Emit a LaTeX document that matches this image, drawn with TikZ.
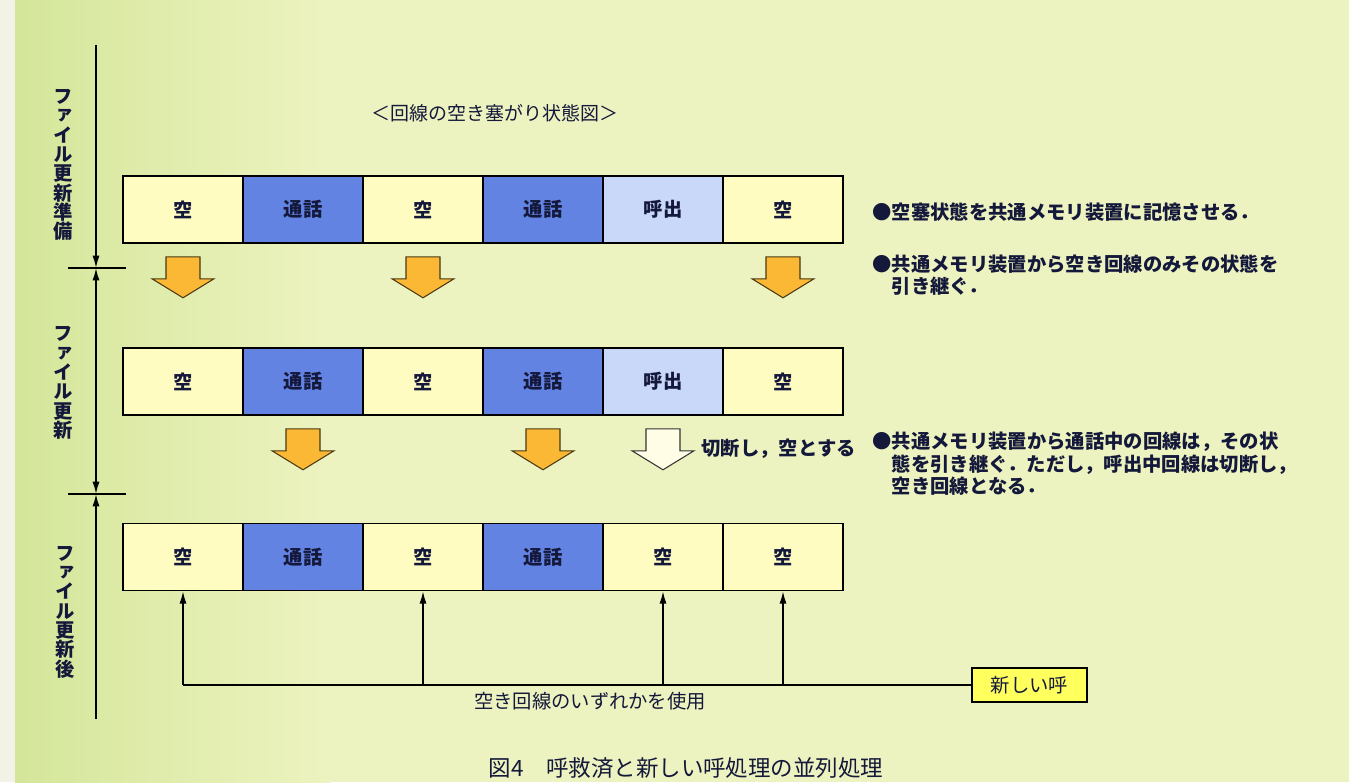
\documentclass[tikz,border=0pt]{standalone}
\usepackage{fontspec}
\usepackage{xcolor}
\usepackage{tikz}
\usetikzlibrary{arrows.meta}
\setmainfont{Noto Sans CJK JP}
\newfontfamily\tateFont[RawFeature=+vert]{Noto Sans CJK JP}
\definecolor{bgMain}{HTML}{EDF3C0}
\definecolor{bgLeft}{HTML}{D4E69A}
\definecolor{bgStrip}{HTML}{F3F2E6}
\definecolor{akiYellow}{HTML}{FFFCC2}
\definecolor{tsuwaBlue}{HTML}{6383E3}
\definecolor{yobiBlue}{HTML}{C9D7F8}
\definecolor{arrowOrange}{HTML}{FBB834}
\definecolor{arrowEdge}{HTML}{4A3812}
\definecolor{arrowWhite}{HTML}{FFFDE6}
\definecolor{newCallYellow}{HTML}{FFFF5E}
\definecolor{navyText}{HTML}{14183A}
\tikzset{
  cell/.style={draw, minimum width=2.4cm, minimum height=1.34cm, inner sep=0pt, text=navyText, font=\bfseries\fontsize{11}{12}\selectfont},
  akiCell/.style={cell, fill=akiYellow, node contents={空}},
  tsuwaCell/.style={cell, fill=tsuwaBlue, node contents={通話}},
  yobiCell/.style={cell, fill=yobiBlue, node contents={呼出}},
  note/.style={anchor=west, align=left, text=navyText, font=\bfseries\fontsize{11}{12.8}\selectfont},
  tate/.style={align=center, text=navyText, font=\tateFont\bfseries\fontsize{11}{11}\selectfont},
  plain/.style={text=navyText, font=\fontsize{11}{13}\selectfont},
  newCallBox/.style={draw, fill=newCallYellow, minimum width=2.3cm, minimum height=0.68cm, text=navyText, font=\fontsize{11}{13}\selectfont},
  axisTip/.tip={Latex[length=7pt,width=4pt]},
  bigdown/.pic={\filldraw[line width=0.6pt] (-17,0) -- (17,0) -- (17,22) -- (31,22) -- (0,41) -- (-31,22) -- (-17,22) -- cycle;}
}

\begin{document}
\begin{tikzpicture}[x=0.02cm, y=-0.02cm, line width=0.9pt]
\useasboundingbox (0,0) rectangle (1349,782);
% background
\fill[bgMain] (0,0) rectangle (1349,782);
\fill[left color=bgLeft, right color=bgMain] (15,0) rectangle (330,782);
\fill[bgStrip] (0,0) rectangle (15,782);
\node[plain, font=\fontsize{10.8}{12}\selectfont] (title) at (495,113) {＜回線の空き塞がり状態図＞};
% three rows of lines
\foreach \kind [count=\i] in {aki,tsuwa,aki,tsuwa,yobi,aki}
  \node (a\i) at ({63+120*\i},209.5) [\kind Cell];
\foreach \kind [count=\i] in {aki,tsuwa,aki,tsuwa,yobi,aki}
  \node (b\i) at ({63+120*\i},381.5) [\kind Cell];
\foreach \kind [count=\i] in {aki,tsuwa,aki,tsuwa,aki,aki}
  \node (c\i) at ({63+120*\i},557) [\kind Cell];
% block arrows
\foreach \i in {1,3,6}
  \path (a\i.south) ++(0,13) pic[fill=arrowOrange, draw=arrowEdge] {bigdown};
\foreach \i in {2,4}
  \path (b\i.south) ++(0,13) pic[fill=arrowOrange, draw=arrowEdge] {bigdown};
\path (b5.south) ++(0,13) pic[fill=arrowWhite, draw=black!80] {bigdown};
\node[note, anchor=west] (cutLabel) at (695,449) {切断し，空とする};
% time axis
\coordinate (axTop) at (96,45);
\coordinate (tickA) at (96,268);
\coordinate (tickB) at (96,494);
\coordinate (axBot) at (96,719);
\draw[-axisTip] (axTop) -- (tickA);
\draw[axisTip-axisTip] (tickA) -- (tickB);
\draw[axisTip-] (tickB) -- (axBot);
\draw ([xshift=-0.56cm]tickA) -- ([xshift=0.6cm]tickA);
\draw ([xshift=-0.56cm]tickB) -- ([xshift=0.6cm]tickB);
\node[tate] (stepPrep) at (63,165) {フ\\ァ\\イ\\ル\\更\\新\\準\\備};
\node[tate] (stepUpd) at (63,383) {フ\\ァ\\イ\\ル\\更\\新};
\node[tate] (stepAfter) at (65,612) {フ\\ァ\\イ\\ル\\更\\新\\後};
% notes
\node[note] (noteA) at (866,212) {●空塞状態を共通メモリ装置に記憶させる．};
\node[note] (noteB) at (866,275) {●共通メモリ装置から空き回線のみその状態を\\\hphantom{●}引き継ぐ．};
\node[note] (noteC) at (866,464) {●共通メモリ装置から通話中の回線は，その状\\\hphantom{●}態を引き継ぐ．ただし，呼出中回線は切断し，\\\hphantom{●}空き回線となる．};
% new call
\node[newCallBox] (newCall) at (1029.5,685) {新しい呼};
\draw (newCall.west) -- (c1.south |- newCall.west);
\foreach \i in {1,3,5,6}
  \draw[-axisTip] (c\i.south |- newCall.west) -- (c\i.south);
\node[plain] (useAny) at (590,701) {空き回線のいずれかを使用};
\node[plain, font=\fontsize{12.8}{14}\selectfont] (caption) at (686,768) {図4　呼救済と新しい呼処理の並列処理};
\end{tikzpicture}
\end{document}
